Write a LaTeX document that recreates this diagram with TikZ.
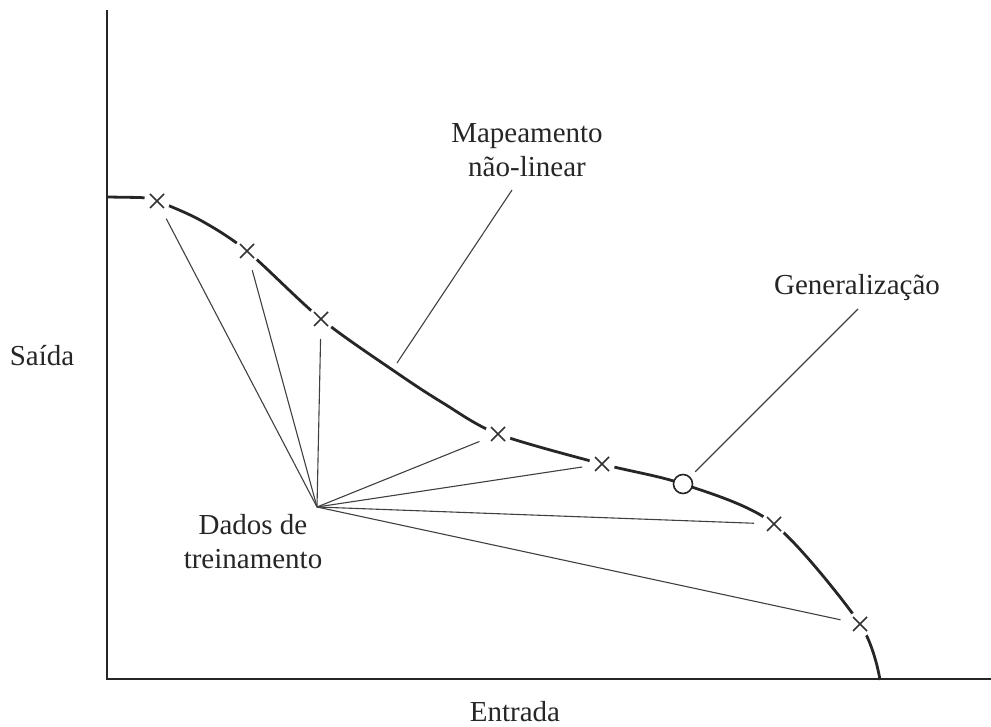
\documentclass[tikz,border=0pt]{standalone}
\usepackage{fontspec}
\setmainfont{Liberation Serif}
\begin{document}
\begin{tikzpicture}[x=1pt,y=-1pt,
  axis/.style={line width=1.8pt, draw=black!85},
  curve/.style={line width=2.8pt, draw=black!85},
  ray/.style={line width=1.1pt, draw=black!75},
  mk/.style={circle, minimum size=26pt, inner sep=0pt, fill=white, outer sep=7pt,
    path picture={\draw[line width=1.6pt, black!80] (path picture bounding box.center) +(-7,-7) -- +(7,7)
      (path picture bounding box.center) +(-7,7) -- +(7,-7);}},
  gm/.style={circle, minimum size=19pt, inner sep=0pt, fill=white, draw=black!85, line width=1.6pt},
  lbl/.style={font=\fontsize{29}{34}\selectfont, align=center, text=black!85}]
\useasboundingbox (0,0) rectangle (991,727);
% axes
\coordinate (ytop) at (107,10);
\coordinate (orig) at (107,679);
\coordinate (xend) at (991,679);
\draw[axis] (ytop) -- (orig) -- (xend);
% curve
\draw[curve] (107,197) -- (140,197.5);
\draw[curve] plot[smooth, tension=0.5] coordinates {(140,197.5) (157,201) (200,220) (247,251) (321,319) (397,373) (443,403) (498,434) (602,464) (683,484) (774,524) (860,624) (880,680)};
% marks
\node[mk] (m1) at (157,201) {};
\node[mk] (m2) at (247,251) {};
\node[mk] (m3) at (321,319) {};
\node[mk] (m4) at (498,434) {};
\node[mk] (m5) at (602,464) {};
\node[mk] (m6) at (774,524) {};
\node[mk] (m7) at (860,624) {};
\node[gm] (gen) at (683,484) {};
% hub
\coordinate (hub) at (317,507);
\foreach \m in {m1,m2,m3,m4,m5,m6,m7} \draw[ray] (hub) -- (\m);
% labels
\node[lbl] (saida) at (42,356) {Saída};
\node[lbl] (entrada) at (515,712) {Entrada};
\node[lbl] (dados) at (253,542) {Dados de\\treinamento};
\node[lbl] (mapa) at (527,150) {Mapeamento\\não-linear};
\node[lbl] (generl) at (857,288) {Generalização};
\coordinate (cpt) at (397,363);
\draw[ray] (mapa) ++(-15,40) coordinate (mtop) -- (cpt);
\draw[ray, shorten >=7pt] (generl) ++(1,21) coordinate (gtop) -- (gen);
\end{tikzpicture}
\end{document}
